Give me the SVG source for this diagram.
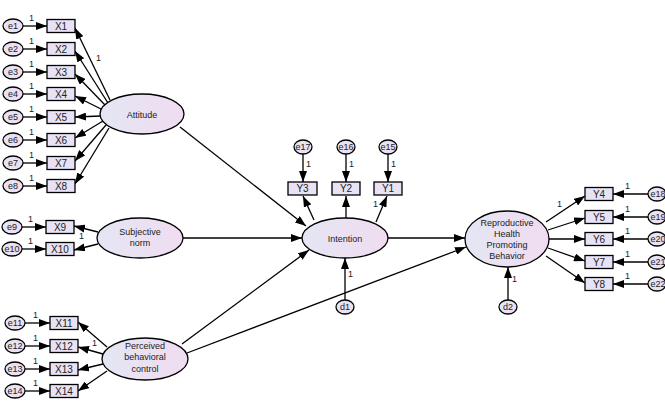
<svg xmlns="http://www.w3.org/2000/svg" width="665" height="409" viewBox="0 0 665 409">
<defs>
<linearGradient id="eg" x1="0" y1="0" x2="1" y2="0">
<stop offset="0" stop-color="#e4e6f4"/>
<stop offset="1" stop-color="#f0dcf0"/>
</linearGradient>
<marker id="ah" viewBox="0 0 11 8" refX="11" refY="4" markerWidth="11" markerHeight="8" orient="auto" markerUnits="userSpaceOnUse">
<path d="M0,0 L11,4 L0,8 z" fill="#000"/>
</marker>
</defs>
<style>
ellipse{fill:url(#eg);stroke:#000;stroke-width:1.3}
rect{fill:#e8e2f4;stroke:#000;stroke-width:1.3}
text{font-family:"Liberation Sans",Arial,sans-serif;fill:#222;text-anchor:middle}
.t{font-size:10px}
.s{font-size:9px}
.l{font-size:9px;text-anchor:start}
#connectors line{stroke:#000;stroke-width:1.3;marker-end:url(#ah)}
</style>
<rect x="0" y="0" width="665" height="409" style="fill:#fff;stroke:none"/>

<g id="connectors">
<line x1="23" y1="26" x2="47" y2="26"/>
<line x1="23" y1="49" x2="47" y2="49"/>
<line x1="23" y1="72" x2="47" y2="72"/>
<line x1="23" y1="94" x2="47" y2="94"/>
<line x1="23" y1="117" x2="47" y2="117"/>
<line x1="23" y1="140" x2="47" y2="140"/>
<line x1="23" y1="163" x2="47" y2="163"/>
<line x1="23" y1="186" x2="47" y2="186"/>
<line x1="110" y1="100" x2="75" y2="28"/>
<line x1="108" y1="103" x2="75" y2="51"/>
<line x1="106" y1="106" x2="75" y2="74"/>
<line x1="103" y1="110" x2="75" y2="96"/>
<line x1="101" y1="116" x2="75" y2="117"/>
<line x1="103" y1="121" x2="75" y2="138"/>
<line x1="106" y1="125" x2="75" y2="161"/>
<line x1="109" y1="128" x2="75" y2="184"/>
<line x1="22" y1="227" x2="46" y2="227"/>
<line x1="22" y1="249" x2="46" y2="249"/>
<line x1="98" y1="232" x2="74" y2="226"/>
<line x1="98" y1="244" x2="74" y2="250"/>
<line x1="25" y1="323" x2="50" y2="323"/>
<line x1="25" y1="346" x2="50" y2="346"/>
<line x1="25" y1="369" x2="50" y2="369"/>
<line x1="25" y1="391" x2="50" y2="391"/>
<line x1="107" y1="347" x2="78" y2="322"/>
<line x1="103" y1="354" x2="78" y2="347"/>
<line x1="103" y1="364" x2="78" y2="370"/>
<line x1="107" y1="371" x2="78" y2="391"/>
<line x1="180" y1="127" x2="306" y2="226"/>
<line x1="183" y1="238" x2="302" y2="238"/>
<line x1="182" y1="344" x2="309" y2="250"/>
<line x1="187" y1="353" x2="466" y2="247"/>
<line x1="388" y1="238" x2="465" y2="238"/>
<line x1="314" y1="220" x2="303" y2="196"/>
<line x1="346" y1="218" x2="346" y2="196"/>
<line x1="376" y1="222" x2="387" y2="196"/>
<line x1="303" y1="154" x2="303" y2="182"/>
<line x1="346" y1="154" x2="346" y2="182"/>
<line x1="388" y1="154" x2="388" y2="182"/>
<line x1="345" y1="300" x2="345" y2="258"/>
<line x1="546" y1="222" x2="585" y2="196"/>
<line x1="548" y1="230" x2="585" y2="218"/>
<line x1="549" y1="239" x2="585" y2="239"/>
<line x1="548" y1="248" x2="585" y2="261"/>
<line x1="546" y1="256" x2="585" y2="283"/>
<line x1="648" y1="194" x2="613" y2="194"/>
<line x1="648" y1="217" x2="613" y2="217"/>
<line x1="648" y1="239" x2="613" y2="239"/>
<line x1="648" y1="262" x2="613" y2="262"/>
<line x1="648" y1="284" x2="613" y2="284"/>
<line x1="508" y1="300" x2="508" y2="267"/>
</g>

<g id="labels">
<text class="l" x="29" y="21">1</text>
<text class="l" x="29" y="44">1</text>
<text class="l" x="29" y="67">1</text>
<text class="l" x="29" y="89">1</text>
<text class="l" x="29" y="112">1</text>
<text class="l" x="29" y="135">1</text>
<text class="l" x="29" y="158">1</text>
<text class="l" x="29" y="181">1</text>
<text class="l" x="96" y="61">1</text>
<text class="l" x="28" y="222">1</text>
<text class="l" x="28" y="244">1</text>
<text class="l" x="79" y="239">1</text>
<text class="l" x="33" y="318">1</text>
<text class="l" x="33" y="341">1</text>
<text class="l" x="33" y="364">1</text>
<text class="l" x="33" y="386">1</text>
<text class="l" x="92" y="346">1</text>
<text class="l" x="306" y="167">1</text>
<text class="l" x="349" y="167">1</text>
<text class="l" x="391" y="167">1</text>
<text class="l" x="373" y="207">1</text>
<text class="l" x="348" y="277">1</text>
<text class="l" x="557" y="207">1</text>
<text class="l" x="625" y="189">1</text>
<text class="l" x="625" y="212">1</text>
<text class="l" x="625" y="234">1</text>
<text class="l" x="625" y="257">1</text>
<text class="l" x="625" y="279">1</text>
<text class="l" x="512" y="282">1</text>
</g>

<g id="e1"><ellipse cx="13" cy="26" rx="10" ry="7"/><text class="s" x="13" y="29">e1</text></g>
<g id="e2"><ellipse cx="13" cy="49" rx="10" ry="7"/><text class="s" x="13" y="52">e2</text></g>
<g id="e3"><ellipse cx="13" cy="72" rx="10" ry="7"/><text class="s" x="13" y="75">e3</text></g>
<g id="e4"><ellipse cx="13" cy="94" rx="10" ry="7"/><text class="s" x="13" y="97">e4</text></g>
<g id="e5"><ellipse cx="13" cy="117" rx="10" ry="7"/><text class="s" x="13" y="120">e5</text></g>
<g id="e6"><ellipse cx="13" cy="140" rx="10" ry="7"/><text class="s" x="13" y="143">e6</text></g>
<g id="e7"><ellipse cx="13" cy="163" rx="10" ry="7"/><text class="s" x="13" y="166">e7</text></g>
<g id="e8"><ellipse cx="13" cy="186" rx="10" ry="7"/><text class="s" x="13" y="189">e8</text></g>
<g id="e9"><ellipse cx="12" cy="227" rx="10" ry="7"/><text class="s" x="12" y="230">e9</text></g>
<g id="e10"><ellipse cx="12" cy="249" rx="10" ry="7"/><text class="s" x="12" y="252">e10</text></g>
<g id="e11"><ellipse cx="15" cy="323" rx="10" ry="7"/><text class="s" x="15" y="326">e11</text></g>
<g id="e12"><ellipse cx="15" cy="346" rx="10" ry="7"/><text class="s" x="15" y="349">e12</text></g>
<g id="e13"><ellipse cx="15" cy="369" rx="10" ry="7"/><text class="s" x="15" y="372">e13</text></g>
<g id="e14"><ellipse cx="15" cy="391" rx="10" ry="7"/><text class="s" x="15" y="394">e14</text></g>

<g id="X1"><rect x="47" y="19.5" width="28" height="13"/><text class="t" x="61" y="29.5">X1</text></g>
<g id="X2"><rect x="47" y="42.5" width="28" height="13"/><text class="t" x="61" y="52.5">X2</text></g>
<g id="X3"><rect x="47" y="65.5" width="28" height="13"/><text class="t" x="61" y="75.5">X3</text></g>
<g id="X4"><rect x="47" y="87.5" width="28" height="13"/><text class="t" x="61" y="97.5">X4</text></g>
<g id="X5"><rect x="47" y="110.5" width="28" height="13"/><text class="t" x="61" y="120.5">X5</text></g>
<g id="X6"><rect x="47" y="133.5" width="28" height="13"/><text class="t" x="61" y="143.5">X6</text></g>
<g id="X7"><rect x="47" y="156.5" width="28" height="13"/><text class="t" x="61" y="166.5">X7</text></g>
<g id="X8"><rect x="47" y="179.5" width="28" height="13"/><text class="t" x="61" y="189.5">X8</text></g>
<g id="X9"><rect x="46" y="220.5" width="28" height="13"/><text class="t" x="60" y="230.5">X9</text></g>
<g id="X10"><rect x="46" y="242.5" width="28" height="13"/><text class="t" x="60" y="252.5">X10</text></g>
<g id="X11"><rect x="50" y="316.5" width="28" height="13"/><text class="t" x="64" y="326.5">X11</text></g>
<g id="X12"><rect x="50" y="339.5" width="28" height="13"/><text class="t" x="64" y="349.5">X12</text></g>
<g id="X13"><rect x="50" y="362.5" width="28" height="13"/><text class="t" x="64" y="372.5">X13</text></g>
<g id="X14"><rect x="50" y="384.5" width="28" height="13"/><text class="t" x="64" y="394.5">X14</text></g>

<g id="Attitude"><ellipse cx="142" cy="114" rx="42" ry="20"/><text class="s" x="142" y="117.5">Attitude</text></g>
<g id="SubjectiveNorm"><ellipse cx="140" cy="238" rx="43" ry="20"/><text class="s" x="140" y="235">Subjective</text><text class="s" x="140" y="246">norm</text></g>
<g id="PBC"><ellipse cx="145" cy="359" rx="43" ry="21"/><text class="s" x="145" y="349">Perceived</text><text class="s" x="145" y="360">behavioral</text><text class="s" x="145" y="372">control</text></g>

<g id="Intention"><ellipse cx="345" cy="238" rx="43" ry="20"/><text class="s" x="345" y="241.5">Intention</text></g>
<g id="Y3"><rect x="288" y="182" width="29" height="13"/><text class="t" x="302.5" y="192">Y3</text></g>
<g id="Y2"><rect x="332" y="182" width="28" height="13"/><text class="t" x="346" y="192">Y2</text></g>
<g id="Y1"><rect x="374" y="182" width="28" height="13"/><text class="t" x="388" y="192">Y1</text></g>
<g id="e17"><ellipse cx="303" cy="147" rx="9" ry="7"/><text class="s" x="303" y="150">e17</text></g>
<g id="e16"><ellipse cx="346" cy="147" rx="9" ry="7"/><text class="s" x="346" y="150">e16</text></g>
<g id="e15"><ellipse cx="388" cy="147" rx="9" ry="7"/><text class="s" x="388" y="150">e15</text></g>
<g id="d1"><ellipse cx="345" cy="307" rx="9" ry="7"/><text class="s" x="345" y="310">d1</text></g>

<g id="RHPB"><ellipse cx="507" cy="239" rx="42" ry="28"/><text class="s" x="507" y="226">Reproductive</text><text class="s" x="507" y="237">Health</text><text class="s" x="507" y="248">Promoting</text><text class="s" x="507" y="259">Behavior</text></g>
<g id="d2"><ellipse cx="508" cy="307" rx="9" ry="7"/><text class="s" x="508" y="310">d2</text></g>

<g id="Y4"><rect x="585" y="187.5" width="28" height="13"/><text class="t" x="599" y="197.5">Y4</text></g>
<g id="Y5"><rect x="585" y="210.5" width="28" height="13"/><text class="t" x="599" y="220.5">Y5</text></g>
<g id="Y6"><rect x="585" y="232.5" width="28" height="13"/><text class="t" x="599" y="242.5">Y6</text></g>
<g id="Y7"><rect x="585" y="255.5" width="28" height="13"/><text class="t" x="599" y="265.5">Y7</text></g>
<g id="Y8"><rect x="585" y="277.5" width="28" height="13"/><text class="t" x="599" y="287.5">Y8</text></g>
<g id="e18"><ellipse cx="657" cy="194" rx="9" ry="7"/><text class="s" x="658" y="197">e18</text></g>
<g id="e19"><ellipse cx="657" cy="217" rx="9" ry="7"/><text class="s" x="658" y="220">e19</text></g>
<g id="e20"><ellipse cx="657" cy="239" rx="9" ry="7"/><text class="s" x="658" y="242">e20</text></g>
<g id="e21"><ellipse cx="657" cy="262" rx="9" ry="7"/><text class="s" x="658" y="265">e21</text></g>
<g id="e22"><ellipse cx="657" cy="284" rx="9" ry="7"/><text class="s" x="658" y="287">e22</text></g>
</svg>
